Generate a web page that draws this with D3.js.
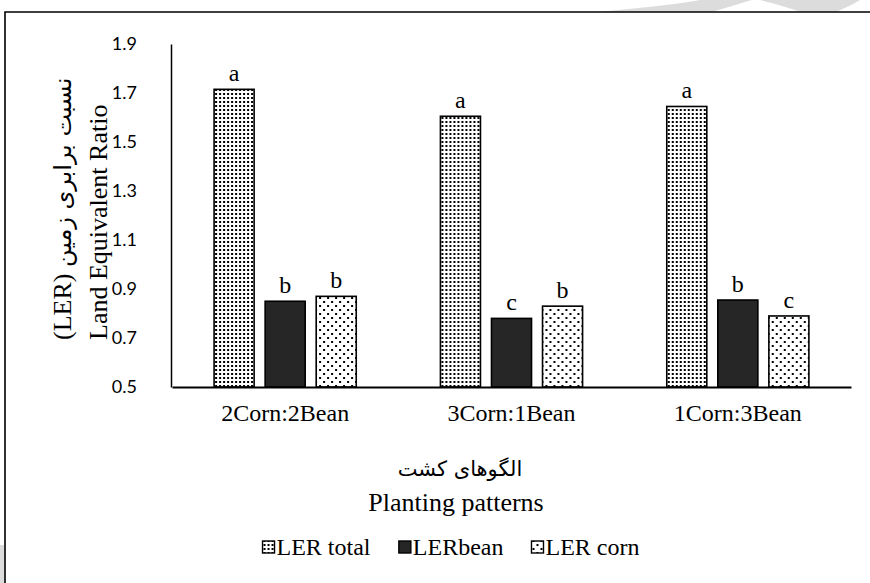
<!DOCTYPE html>
<html>
<head>
<meta charset="utf-8">
<script src="https://cdn.jsdelivr.net/npm/d3@7"></script>
<style>
  body { margin: 0; background: #fff; }
  svg { display: block; }
</style>
</head>
<body>
<div id="chart"></div>
<script>
// data
var categories = ["2Corn:2Bean", "3Corn:1Bean", "1Corn:3Bean"];
var seriesNames = ["LER total", "LERbean", "LER corn"];
var lerTotal = [1.715, 1.605, 1.645];
var lerBean = [0.85, 0.78, 0.855];
var lerCorn = [0.87, 0.83, 0.79];
var lettersTotal = ["a", "a", "a"];
var lettersBean = ["b", "c", "b"];
var lettersCorn = ["b", "b", "c"];
var yTicks = [0.5, 0.7, 0.9, 1.1, 1.3, 1.5, 1.7, 1.9];

var W = 870, H = 583;
var serif = "'Liberation Serif', 'Times New Roman', serif";
var sans = "Lato, 'Liberation Sans', sans-serif";
var arabic = "'DejaVu Sans', serif";

var svg = d3.select("#chart").append("svg")
    .attr("width", W)
    .attr("height", H);

var defs = svg.append("defs");

// dense dots for LER total
var p1 = defs.append("pattern")
    .attr("id", "dotsDense")
    .attr("patternUnits", "userSpaceOnUse")
    .attr("width", 4).attr("height", 4);
p1.append("rect").attr("width", 4).attr("height", 4).attr("fill", "#fff");
p1.append("rect").attr("x", 1).attr("y", 1).attr("width", 2).attr("height", 2).attr("fill", "#000");

// sparse staggered dots for LER corn
var p2 = defs.append("pattern")
    .attr("id", "dotsSparse")
    .attr("patternUnits", "userSpaceOnUse")
    .attr("width", 8).attr("height", 8);
p2.append("rect").attr("width", 8).attr("height", 8).attr("fill", "#fff");
p2.append("rect").attr("x", 1).attr("y", 1).attr("width", 2).attr("height", 2).attr("fill", "#000");
p2.append("rect").attr("x", 5).attr("y", 5).attr("width", 2).attr("height", 2).attr("fill", "#000");

var fills = ["url(#dotsDense)", "#262626", "url(#dotsSparse)"];

// faint watermark pieces peeking out around the frame
svg.append("path")
    .attr("d", "M598,12 C640,8 680,4 700,0 L752,0 C735,5 722,9 712,12 Z")
    .attr("fill", "#dcdcdc");
svg.append("path")
    .attr("d", "M760,0 L860,0 C850,6 840,10 836,12 L800,12 C790,8 775,4 760,0 Z")
    .attr("fill", "#dcdcdc");
svg.append("rect")
    .attr("x", 0).attr("y", 545).attr("width", 4).attr("height", 38)
    .attr("fill", "#dcdcdc");

// frame of the figure
svg.append("path")
    .attr("d", "M5," + H + "V12H" + W)
    .attr("fill", "none")
    .attr("stroke", "#000")
    .attr("stroke-width", 1.6);

var x0 = d3.scaleBand()
    .domain(categories)
    .range([172, 851])
    .paddingInner(0.372)
    .paddingOuter(0.186);

var x1 = d3.scaleBand()
    .domain(seriesNames)
    .range([0, x0.bandwidth()])
    .paddingInner(11 / 51);

var y = d3.scaleLinear()
    .domain([0.5, 1.9])
    .range([387, 44]);

var rows = categories.map(function (c, i) {
    return {
        cat: c,
        vals: [
            { s: seriesNames[0], v: lerTotal[i], l: lettersTotal[i], k: 0 },
            { s: seriesNames[1], v: lerBean[i], l: lettersBean[i], k: 1 },
            { s: seriesNames[2], v: lerCorn[i], l: lettersCorn[i], k: 2 }
        ]
    };
});

var groups = svg.selectAll(".grp")
    .data(rows)
    .enter()
    .append("g")
    .attr("class", "grp")
    .attr("transform", function (d) { return "translate(" + x0(d.cat) + ",0)"; });

groups.selectAll("rect")
    .data(function (d) { return d.vals; })
    .enter()
    .append("rect")
    .attr("x", function (d) { return x1(d.s); })
    .attr("y", function (d) { return y(d.v); })
    .attr("width", x1.bandwidth())
    .attr("height", function (d) { return y(0.5) - y(d.v); })
    .attr("fill", function (d) { return fills[d.k]; })
    .attr("stroke", "#000")
    .attr("stroke-width", 1.6);

groups.selectAll("text.sig")
    .data(function (d) { return d.vals; })
    .enter()
    .append("text")
    .attr("class", "sig")
    .attr("x", function (d) { return x1(d.s) + x1.bandwidth() / 2; })
    .attr("y", function (d) { return y(d.v) - 8; })
    .attr("text-anchor", "middle")
    .style("font-family", serif)
    .style("font-size", "24px")
    .text(function (d) { return d.l; });

// y axis
var yAxis = d3.axisLeft(y)
    .tickValues(yTicks)
    .tickSize(0)
    .tickPadding(34)
    .tickFormat(d3.format(".1f"));

var gy = svg.append("g")
    .attr("transform", "translate(171,0)")
    .call(yAxis);
gy.select(".domain").attr("stroke", "#000").attr("stroke-width", 1.5);
gy.selectAll("text")
    .style("font-family", sans)
    .style("font-size", "18px")
    .attr("fill", "#000");

// x axis
var xAxis = d3.axisBottom(x0)
    .tickSize(0)
    .tickPadding(17);

var gx = svg.append("g")
    .attr("transform", "translate(0,387)")
    .call(xAxis);
gx.select(".domain").attr("stroke", "#000").attr("stroke-width", 2);
gx.selectAll("text")
    .style("font-family", serif)
    .style("font-size", "24px")
    .attr("fill", "#000");

// y title, two lines
var yt = svg.append("text")
    .attr("transform", "translate(71,340) rotate(-90)")
    .attr("text-anchor", "start")
    .style("font-family", serif)
    .style("font-size", "26px");
yt.append("tspan").text("(LER) ");
yt.append("tspan").style("font-family", arabic).style("font-size", "24px").text("نسبت برابری زمین");

svg.append("text")
    .attr("transform", "translate(107,340) rotate(-90)")
    .attr("text-anchor", "start")
    .style("font-family", serif)
    .style("font-size", "26px")
    .text("Land Equivalent Ratio");

// x title, two lines, centred on the chart area
var cx = 456;
svg.append("text")
    .attr("x", cx + 4)
    .attr("y", 476)
    .attr("text-anchor", "middle")
    .style("font-family", arabic)
    .style("font-size", "21px")
    .text("الگوهای کشت");

svg.append("text")
    .attr("x", cx)
    .attr("y", 511)
    .attr("text-anchor", "middle")
    .style("font-family", serif)
    .style("font-size", "26px")
    .text("Planting patterns");

// legend
var legend = svg.append("g");
var items = legend.selectAll("g")
    .data(seriesNames)
    .enter()
    .append("g");
items.append("rect")
    .attr("width", 12).attr("height", 12)
    .attr("y", -14)
    .attr("fill", function (d, i) { return fills[i]; })
    .attr("stroke", "#000")
    .attr("stroke-width", 1.4);
items.append("text")
    .attr("x", 14)
    .style("font-family", serif)
    .style("font-size", "24px")
    .text(function (d) { return d; });

var gap = 28;
var lx = 0;
items.each(function () {
    var w = this.getBBox().width;
    d3.select(this).attr("transform", "translate(" + lx + ",0)");
    lx += w + gap;
});
lx -= gap;
legend.attr("transform", "translate(" + (451 - lx / 2) + ",555)");
</script>
</body>
</html>
